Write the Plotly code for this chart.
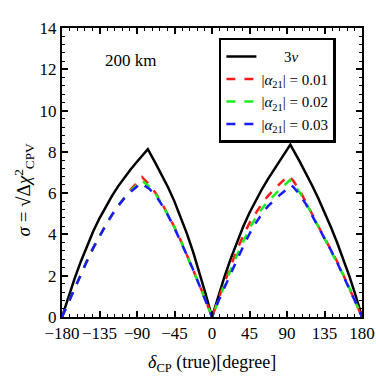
import plotly.graph_objects as go

# 3nu (black)
x_3nu = [-180, -172.5, -165, -157.5, -150, -142.5, -135, -127.5, -120, -112.5, -105, -97.5, -90, -82.5, -77,
         -67.5, -60, -52.5, -45, -37.5, -30, -22.5, -15, -7.5, 0,
         7.5, 15, 22.5, 30, 37.5, 45, 52.5, 60, 67.5, 75, 82.5, 94,
         105, 112.5, 120, 127.5, 135, 142.5, 150, 157.5, 165, 172.5, 180]
y_3nu = [0, 0.95, 1.85, 2.68, 3.45, 4.15, 4.78, 5.35, 5.87, 6.34, 6.77, 7.16, 7.52, 7.86, 8.13,
         7.43, 6.87, 6.26, 5.59, 4.85, 4.03, 3.13, 2.15, 1.1, 0,
         1.0, 1.95, 2.83, 3.64, 4.38, 5.05, 5.65, 6.2, 6.7, 7.17, 7.62, 8.35,
         7.55, 6.98, 6.38, 5.75, 5.08, 4.37, 3.62, 2.82, 1.96, 1.02, 0]

# |alpha21| = 0.01 (red)
x_a1 = [-180, -172.5, -165, -157.5, -150, -142.5, -135, -127.5, -120, -112.5, -105, -97.5, -90, -84,
        -75, -67.5, -60, -52.5, -45, -37.5, -30, -22.5, -15, -7.5, 0,
        7.5, 15, 22.5, 30, 37.5, 45, 52.5, 60, 67.5, 75, 82.5, 92,
        97.5, 105, 112.5, 120, 127.5, 135, 142.5, 150, 157.5, 165, 172.5, 180]
y_a1 = [0, 0.7, 1.38, 2.05, 2.72, 3.35, 3.92, 4.45, 4.95, 5.4, 5.8, 6.17, 6.5, 6.78,
        6.4, 6.0, 5.5, 4.95, 4.35, 3.7, 3.0, 2.3, 1.55, 0.8, 0,
        0.85, 1.7, 2.48, 3.25, 3.95, 4.55, 5.05, 5.5, 5.88, 6.2, 6.5, 6.85,
        6.6, 6.15, 5.6, 5.0, 4.4, 3.85, 3.3, 2.7, 2.05, 1.4, 0.7, 0]

# |alpha21| = 0.02 (green)
x_a2 = [-180, -172.5, -165, -157.5, -150, -142.5, -135, -127.5, -120, -112.5, -105, -97.5, -90, -85,
        -75, -67.5, -60, -52.5, -45, -37.5, -30, -22.5, -15, -7.5, 0,
        7.5, 15, 22.5, 30, 37.5, 45, 52.5, 60, 67.5, 75, 82.5, 93.5,
        97.5, 105, 112.5, 120, 127.5, 135, 142.5, 150, 157.5, 165, 172.5, 180]
y_a2 = [0, 0.7, 1.38, 2.05, 2.72, 3.35, 3.92, 4.45, 4.95, 5.4, 5.78, 6.12, 6.4, 6.65,
        6.3, 5.95, 5.47, 4.93, 4.33, 3.69, 2.99, 2.29, 1.54, 0.8, 0,
        0.8, 1.57, 2.3, 3.0, 3.68, 4.3, 4.8, 5.25, 5.62, 5.93, 6.22, 6.63,
        6.45, 6.05, 5.55, 4.97, 4.38, 3.83, 3.28, 2.68, 2.04, 1.39, 0.7, 0]

# |alpha21| = 0.03 (blue)
x_a3 = [-180, -172.5, -165, -157.5, -150, -142.5, -135, -127.5, -120, -112.5, -105, -97.5, -90, -86,
        -75, -67.5, -60, -52.5, -45, -37.5, -30, -22.5, -15, -7.5, 0,
        7.5, 15, 22.5, 30, 37.5, 45, 52.5, 60, 67.5, 75, 82.5, 90, 94.5,
        97.5, 105, 112.5, 120, 127.5, 135, 142.5, 150, 157.5, 165, 172.5, 180]
y_a3 = [0, 0.7, 1.38, 2.05, 2.72, 3.35, 3.92, 4.45, 4.95, 5.4, 5.76, 6.07, 6.32, 6.5,
        6.2, 5.88, 5.42, 4.9, 4.3, 3.67, 2.98, 2.28, 1.53, 0.79, 0,
        0.75, 1.45, 2.1, 2.77, 3.42, 4.03, 4.55, 5.0, 5.38, 5.68, 5.95, 6.2, 6.4,
        6.3, 5.95, 5.48, 4.93, 4.35, 3.8, 3.25, 2.65, 2.02, 1.37, 0.69, 0]

x_ticks = [-180, -135, -90, -45, 0, 45, 90, 135, 180]
y_ticks = [0, 2, 4, 6, 8, 10, 12, 14]

serif = "Liberation Serif, Times New Roman, serif"
pad = "&nbsp;" * 6

fig = go.Figure()
fig.add_trace(go.Scatter(x=x_3nu, y=y_3nu, mode="lines", name=pad + "3<i>ν</i>",
                         line=dict(color="black", width=2.5)))
fig.add_trace(go.Scatter(x=x_a1, y=y_a1, mode="lines", name="|<i>α</i><sub>21</sub>| = 0.01",
                         line=dict(color="#ff1a1a", width=2.5, dash="dash")))
fig.add_trace(go.Scatter(x=x_a2, y=y_a2, mode="lines", name="|<i>α</i><sub>21</sub>| = 0.02",
                         line=dict(color="#1aee1a", width=2.5, dash="dash")))
fig.add_trace(go.Scatter(x=x_a3, y=y_a3, mode="lines", name="|<i>α</i><sub>21</sub>| = 0.03",
                         line=dict(color="#1a1aff", width=2.5, dash="dash")))

fig.add_annotation(x=-98, y=12.45, text="200 km", showarrow=False,
                   font=dict(size=17, color="black", family=serif))

# axis titles as annotations so they sit where the reference has them
fig.add_annotation(xref="paper", yref="paper", x=0.5, y=-0.16, yanchor="middle",
                   text="<i>δ</i><sub>CP</sub> (true)[degree]", showarrow=False,
                   font=dict(size=18, color="black", family=serif))
fig.add_annotation(xref="paper", yref="paper", x=-0.125, y=0.27, xanchor="center",
                   textangle=-90, showarrow=False,
                   text="<i>σ</i> = √Δ<i>χ</i><sup>2</sup><sub>CPV</sub>",
                   font=dict(size=19, color="black", family=serif))

axis_common = dict(showline=True, linecolor="black", linewidth=2, mirror="allticks",
                   ticks="inside", ticklen=6, tickwidth=1.5, tickcolor="black",
                   showgrid=False, zeroline=False, automargin=False,
                   tickfont=dict(size=17, color="black", family=serif))

fig.update_xaxes(range=[-180, 180], tickvals=x_ticks,
                 minor=dict(dtick=9, ticks="inside", ticklen=3, tickcolor="black", tickwidth=1.2),
                 **axis_common)
fig.update_yaxes(range=[0, 14], tickvals=y_ticks,
                 minor=dict(dtick=0.4, ticks="inside", ticklen=3, tickcolor="black", tickwidth=1.2),
                 **axis_common)

fig.update_layout(
    width=376, height=376,
    margin=dict(l=62, r=14, t=28, b=59),
    paper_bgcolor="white", plot_bgcolor="white",
    font=dict(family=serif, color="black"),
    showlegend=True,
    legend=dict(x=0.523, y=0.966, xanchor="left", yanchor="top",
                bgcolor="white", bordercolor="black", borderwidth=2.5,
                font=dict(size=15, color="black", family=serif),
                tracegroupgap=0, itemwidth=30),
)

# drop the page's default body margin so the 376px figure fills the window
fig.write_html("out.html", config={"displayModeBar": False},
               post_script="document.body.style.margin='0';")
